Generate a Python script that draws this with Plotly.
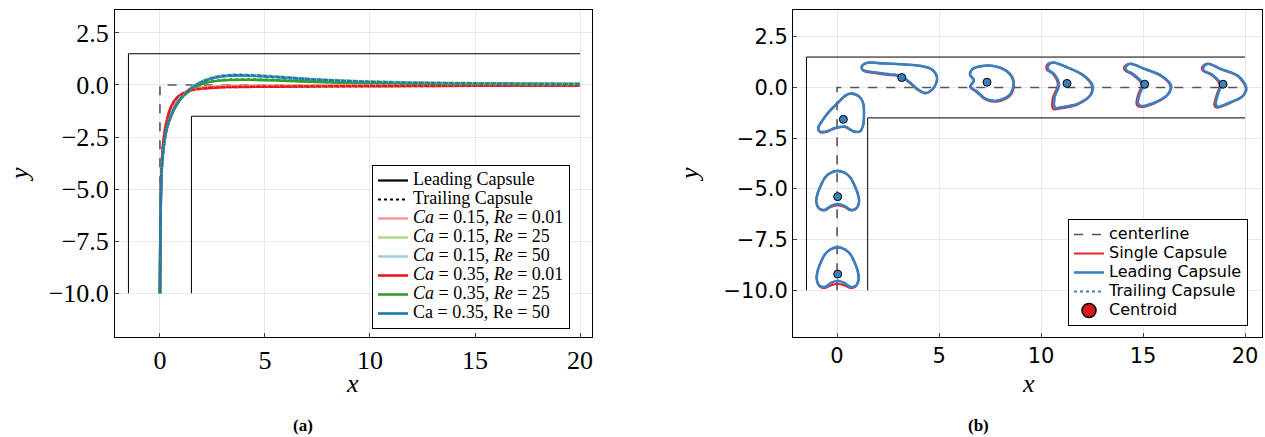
import plotly.graph_objects as go

# ---------------- data: panel (a) centroid trajectories ----------------
traj_x = [0, 0.02, 0.05, 0.1, 0.2, 0.35, 0.55, 0.8, 1.1, 1.5, 2.0, 2.6, 3.3, 4.2, 5.5, 7, 9, 12, 15, 18, 20]

lead_ca15_re001 = [-10, -7, -5, -3.6, -2.5, -1.7, -1.1, -0.7, -0.45, -0.25, -0.12, -0.07, -0.05, -0.04, -0.03, -0.03, -0.02, -0.02, -0.01, -0.01, -0.01]
lead_ca15_re25 = [-10, -7, -5, -3.8, -2.8, -2.0, -1.4, -0.9, -0.48, -0.12, 0.18, 0.38, 0.47, 0.47, 0.4, 0.3, 0.2, 0.12, 0.08, 0.07, 0.06]
lead_ca15_re50 = [-10, -7, -5, -3.8, -2.8, -2.0, -1.4, -0.9, -0.5, -0.14, 0.16, 0.36, 0.46, 0.46, 0.39, 0.29, 0.19, 0.11, 0.08, 0.07, 0.06]
lead_ca35_re001 = [-10, -7, -5, -3.5, -2.4, -1.6, -1.0, -0.62, -0.4, -0.25, -0.17, -0.13, -0.1, -0.09, -0.08, -0.07, -0.06, -0.05, -0.04, -0.03, -0.03]
lead_ca35_re25 = [-10, -7, -5, -3.8, -2.8, -2.0, -1.45, -0.95, -0.55, -0.22, 0.05, 0.18, 0.24, 0.25, 0.22, 0.16, 0.1, 0.06, 0.04, 0.03, 0.03]
lead_ca35_re50 = [-10, -7, -5, -3.8, -2.8, -2.0, -1.4, -0.9, -0.5, -0.15, 0.15, 0.35, 0.45, 0.45, 0.38, 0.28, 0.18, 0.1, 0.07, 0.06, 0.05]

trail_ca15_re001 = [-10, -7, -5, -3.6, -2.5, -1.7, -1.1, -0.7, -0.45, -0.24, -0.11, -0.06, -0.04, -0.03, -0.03, -0.02, -0.02, -0.01, -0.01, -0.01, -0.01]
trail_ca15_re25 = [-10, -7, -5, -3.8, -2.8, -2.0, -1.4, -0.9, -0.47, -0.1, 0.2, 0.4, 0.49, 0.49, 0.42, 0.31, 0.21, 0.13, 0.09, 0.07, 0.06]
trail_ca15_re50 = [-10, -7, -5, -3.8, -2.8, -2.0, -1.4, -0.9, -0.49, -0.12, 0.18, 0.38, 0.48, 0.48, 0.41, 0.3, 0.2, 0.12, 0.08, 0.07, 0.06]
trail_ca35_re001 = [-10, -7, -5, -3.5, -2.4, -1.6, -1.0, -0.62, -0.4, -0.25, -0.17, -0.12, -0.1, -0.09, -0.08, -0.07, -0.06, -0.05, -0.04, -0.03, -0.03]
trail_ca35_re25 = [-10, -7, -5, -3.8, -2.8, -2.0, -1.45, -0.95, -0.54, -0.2, 0.07, 0.2, 0.26, 0.27, 0.24, 0.17, 0.11, 0.07, 0.05, 0.04, 0.03]
trail_ca35_re50 = [-10, -7, -5, -3.8, -2.8, -2.0, -1.4, -0.9, -0.5, -0.14, 0.16, 0.36, 0.47, 0.47, 0.4, 0.29, 0.19, 0.11, 0.08, 0.06, 0.05]

case_labels = [
    "<i>Ca</i> = 0.15, <i>Re</i> = 0.01",
    "<i>Ca</i> = 0.15, <i>Re</i> = 25",
    "<i>Ca</i> = 0.15, <i>Re</i> = 50",
    "<i>Ca</i> = 0.35, <i>Re</i> = 0.01",
    "<i>Ca</i> = 0.35, <i>Re</i> = 25",
    "Ca = 0.35, Re = 50",
]
case_colors = ["#fb9a99", "#b2df8a", "#a6cee3", "#e31a1c", "#33a02c", "#1f78b4"]
lead_series = [lead_ca15_re001, lead_ca15_re25, lead_ca15_re50, lead_ca35_re001, lead_ca35_re25, lead_ca35_re50]
trail_series = [trail_ca15_re001, trail_ca15_re25, trail_ca15_re50, trail_ca35_re001, trail_ca35_re25, trail_ca35_re50]

# channel geometry (both panels)
outer_wall_x = [-1.5, -1.5, 20]
outer_wall_y = [-10, 1.5, 1.5]
inner_wall_x = [1.5, 1.5, 20]
inner_wall_y = [-10, -1.5, -1.5]
center_x = [0, 0, 20]
center_y = [-10, 0, 0]

# ---------------- data: panel (b) capsule snapshots ----------------
centroid_x = [0.03, 0.03, 0.31, 3.17, 7.35, 11.27, 15.08, 18.92]
centroid_y = [-9.2, -5.38, -1.57, 0.49, 0.26, 0.2, 0.16, 0.16]

lead_dx = [
    [0, -0.35, -0.62, -0.82, -0.97, -1.03, -0.95, -0.8, -0.6, -0.35, 0, 0.35, 0.6, 0.8, 0.95, 1.03, 0.97, 0.82, 0.62, 0.35, 0],
    [0, -0.35, -0.62, -0.82, -0.98, -1.05, -0.96, -0.8, -0.6, -0.35, 0, 0.35, 0.6, 0.8, 0.96, 1.05, 0.98, 0.82, 0.62, 0.35, 0],
    [0.08, 0.41, 0.82, 0.98, 1.01, 0.98, 0.82, 0.49, 0.08, -0.41, -0.81, -1.14, -1.23, -0.98, -0.65, -0.25, 0.08],
    [-1.96, -1.72, -0.82, 0.16, 1.0, 1.49, 1.73, 1.58, 1.19, 0.8, 0.41, -0.03, -0.67, -1.46, -1.9, -1.96],
    [-0.74, -0.34, 0.39, 0.93, 1.23, 1.3, 1.08, 0.44, -0.1, -0.49, -0.81, -0.64, -0.83, -0.74],
    [-0.93, -0.69, 0.05, 0.83, 1.25, 1.18, 0.54, -0.29, -0.59, -0.61, -0.39, -0.64, -0.93, -0.93],
    [-0.95, -0.72, 0.01, 0.8, 1.29, 1.14, 0.5, -0.18, -0.33, -0.25, -0.08, -0.57, -0.89, -0.95],
    [-0.98, -0.74, -0.08, 0.74, 1.14, 0.98, 0.33, -0.25, -0.36, -0.25, -0.11, -0.57, -0.93, -0.98],
]
lead_dy = [
    [1.32, 1.22, 0.98, 0.6, 0.2, -0.2, -0.5, -0.62, -0.62, -0.45, -0.33, -0.45, -0.62, -0.62, -0.5, -0.2, 0.2, 0.6, 0.98, 1.22, 1.32],
    [1.27, 1.17, 0.94, 0.56, 0.16, -0.22, -0.52, -0.64, -0.64, -0.47, -0.36, -0.47, -0.64, -0.64, -0.52, -0.22, 0.16, 0.56, 0.94, 1.17, 1.27],
    [1.16, 1.27, 1.08, 0.75, 0.26, -0.23, -0.59, -0.59, -0.36, -0.43, -0.59, -0.6, -0.44, 0.01, 0.43, 0.83, 1.16],
    [0.54, 0.72, 0.69, 0.64, 0.56, 0.39, 0.0, -0.49, -0.76, -0.59, -0.25, 0.07, 0.17, 0.27, 0.37, 0.54],
    [0.62, 0.78, 0.79, 0.57, 0.23, -0.16, -0.65, -0.92, -0.8, -0.46, -0.21, 0.08, 0.38, 0.62],
    [0.88, 1.03, 0.78, 0.39, -0.1, -0.54, -1.0, -1.18, -1.2, -0.69, -0.05, 0.47, 0.69, 0.88],
    [0.82, 1.01, 0.75, 0.43, -0.06, -0.5, -0.9, -1.07, -0.95, -0.48, -0.01, 0.5, 0.67, 0.82],
    [0.82, 1.01, 0.74, 0.41, -0.16, -0.57, -0.9, -1.11, -0.98, -0.49, 0.0, 0.49, 0.66, 0.82],
]
single_dx = [
    [0, -0.35, -0.62, -0.82, -0.97, -1.03, -0.95, -0.8, -0.6, -0.35, 0, 0.35, 0.6, 0.8, 0.95, 1.03, 0.97, 0.82, 0.62, 0.35, 0],
    [0, -0.35, -0.62, -0.82, -0.98, -1.05, -0.96, -0.8, -0.6, -0.35, 0, 0.35, 0.6, 0.8, 0.96, 1.05, 0.98, 0.82, 0.62, 0.35, 0],
    [0.08, 0.41, 0.82, 0.98, 1.01, 0.98, 0.82, 0.49, 0.08, -0.41, -0.81, -1.14, -1.25, -1.0, -0.67, -0.27, 0.08],
    [-1.96, -1.72, -0.82, 0.16, 1.0, 1.49, 1.73, 1.58, 1.19, 0.8, 0.41, -0.03, -0.67, -1.46, -1.9, -1.96],
    [-0.74, -0.34, 0.39, 0.95, 1.26, 1.33, 1.12, 0.46, -0.1, -0.51, -0.84, -0.66, -0.84, -0.74],
    [-1.0, -0.75, 0.03, 0.82, 1.22, 1.14, 0.5, -0.33, -0.68, -0.7, -0.45, -0.7, -1.0, -1.0],
    [-1.02, -0.78, 0.0, 0.78, 1.26, 1.1, 0.46, -0.22, -0.4, -0.32, -0.14, -0.64, -0.96, -1.02],
    [-1.04, -0.8, -0.1, 0.72, 1.11, 0.95, 0.3, -0.3, -0.43, -0.31, -0.17, -0.63, -0.99, -1.04],
]
single_dy = [
    [1.32, 1.22, 0.98, 0.6, 0.2, -0.2, -0.52, -0.66, -0.68, -0.56, -0.48, -0.56, -0.68, -0.66, -0.52, -0.2, 0.2, 0.6, 0.98, 1.22, 1.32],
    [1.27, 1.17, 0.94, 0.56, 0.16, -0.22, -0.53, -0.66, -0.67, -0.52, -0.42, -0.52, -0.67, -0.66, -0.53, -0.22, 0.16, 0.56, 0.94, 1.17, 1.27],
    [1.16, 1.27, 1.08, 0.75, 0.26, -0.23, -0.6, -0.6, -0.38, -0.45, -0.62, -0.64, -0.46, 0.0, 0.43, 0.83, 1.16],
    [0.54, 0.72, 0.69, 0.64, 0.56, 0.39, 0.0, -0.49, -0.78, -0.62, -0.29, 0.03, 0.13, 0.23, 0.34, 0.54],
    [0.62, 0.78, 0.79, 0.57, 0.23, -0.18, -0.68, -0.96, -0.84, -0.49, -0.23, 0.08, 0.38, 0.62],
    [0.88, 1.03, 0.78, 0.37, -0.12, -0.58, -1.05, -1.24, -1.26, -0.72, -0.05, 0.47, 0.69, 0.88],
    [0.82, 1.01, 0.75, 0.41, -0.08, -0.54, -0.95, -1.12, -1.0, -0.5, -0.01, 0.5, 0.67, 0.82],
    [0.82, 1.01, 0.74, 0.39, -0.18, -0.6, -0.95, -1.16, -1.03, -0.51, 0.0, 0.49, 0.66, 0.82],
]

# ---------------- figure ----------------
SERIF = "Liberation Serif"
SANS = "DejaVu Sans"
RED_B = "#e3242b"
BLUE_B = "#3a80c0"


def leg_a(t):
    return '<span style="font-size:18px">' + t + "</span>"


def leg_b(t):
    return '<span style="font-size:16px">' + t + "</span>"


fig = go.Figure()

# panel (a)
fig.add_trace(go.Scatter(x=outer_wall_x, y=outer_wall_y, mode="lines", line=dict(color="black", width=1),
                         showlegend=False, xaxis="x", yaxis="y", hoverinfo="skip"))
fig.add_trace(go.Scatter(x=inner_wall_x, y=inner_wall_y, mode="lines", line=dict(color="black", width=1),
                         showlegend=False, xaxis="x", yaxis="y", hoverinfo="skip"))
fig.add_trace(go.Scatter(x=center_x, y=center_y, mode="lines", line=dict(color="#555555", width=1.6, dash="dash"),
                         showlegend=False, xaxis="x", yaxis="y", hoverinfo="skip"))
for ys, c in zip(lead_series, case_colors):
    fig.add_trace(go.Scatter(x=traj_x, y=ys, mode="lines", line=dict(color=c, width=2.6, shape="spline"),
                             showlegend=False, xaxis="x", yaxis="y"))
for ys, c in zip(trail_series, case_colors):
    fig.add_trace(go.Scatter(x=traj_x, y=ys, mode="lines", line=dict(color=c, width=2.4, dash="dot", shape="spline"),
                             showlegend=False, xaxis="x", yaxis="y"))
# legend entries (a)
fig.add_trace(go.Scatter(x=[None], y=[None], mode="lines", line=dict(color="black", width=2.2),
                         name=leg_a("Leading Capsule"), legend="legend", xaxis="x", yaxis="y"))
fig.add_trace(go.Scatter(x=[None], y=[None], mode="lines", line=dict(color="black", width=2.2, dash="dot"),
                         name=leg_a("Trailing Capsule"), legend="legend", xaxis="x", yaxis="y"))
for lab, c in zip(case_labels, case_colors):
    fig.add_trace(go.Scatter(x=[None], y=[None], mode="lines", line=dict(color=c, width=2.6),
                             name=leg_a(lab), legend="legend", xaxis="x", yaxis="y"))

# panel (b)
fig.add_trace(go.Scatter(x=outer_wall_x, y=outer_wall_y, mode="lines", line=dict(color="black", width=1),
                         showlegend=False, xaxis="x2", yaxis="y2", hoverinfo="skip"))
fig.add_trace(go.Scatter(x=inner_wall_x, y=inner_wall_y, mode="lines", line=dict(color="black", width=1),
                         showlegend=False, xaxis="x2", yaxis="y2", hoverinfo="skip"))
fig.add_trace(go.Scatter(x=center_x, y=center_y, mode="lines", line=dict(color="#555555", width=1.6, dash="dash"),
                         name=leg_b("centerline"), legend="legend2", xaxis="x2", yaxis="y2"))
for i in range(len(centroid_x)):
    cx, cy = centroid_x[i], centroid_y[i]
    fig.add_trace(go.Scatter(x=[cx + d for d in single_dx[i]], y=[cy + d for d in single_dy[i]], mode="lines",
                             line=dict(color=RED_B, width=2, shape="spline", smoothing=0.9),
                             name=leg_b("Single Capsule"), legend="legend2", showlegend=(i == 0),
                             xaxis="x2", yaxis="y2"))
for i in range(len(centroid_x)):
    cx, cy = centroid_x[i], centroid_y[i]
    fig.add_trace(go.Scatter(x=[cx + d for d in lead_dx[i]], y=[cy + d for d in lead_dy[i]], mode="lines",
                             line=dict(color=BLUE_B, width=2.6, shape="spline", smoothing=0.9),
                             name=leg_b("Leading Capsule"), legend="legend2", showlegend=(i == 0),
                             xaxis="x2", yaxis="y2"))
for i in range(len(centroid_x)):
    cx, cy = centroid_x[i], centroid_y[i]
    fig.add_trace(go.Scatter(x=[cx + d for d in lead_dx[i]], y=[cy + d for d in lead_dy[i]], mode="lines",
                             line=dict(color=BLUE_B, width=2.2, dash="dot", shape="spline", smoothing=0.9),
                             name=leg_b("Trailing Capsule"), legend="legend2", showlegend=(i == 0),
                             xaxis="x2", yaxis="y2"))
fig.add_trace(go.Scatter(x=centroid_x, y=centroid_y, mode="markers",
                         marker=dict(color=BLUE_B, size=8, line=dict(color="black", width=1)),
                         showlegend=False, xaxis="x2", yaxis="y2"))
fig.add_trace(go.Scatter(x=[None], y=[None], mode="markers",
                         marker=dict(color="#d7191c", size=14, line=dict(color="black", width=1.5)),
                         name=leg_b("Centroid"), legend="legend2", xaxis="x2", yaxis="y2"))

W, H = 1265, 437
ydom = [1 - 337 / H, 1 - 10 / H]
axis_common = dict(showline=True, mirror=True, linecolor="black", linewidth=1,
                   showgrid=True, gridcolor="#e8e8e8", gridwidth=1, zeroline=False,
                   ticks="inside", ticklen=4, tickcolor="#444444")


def ann(text, px, py, size, angle=0):
    return dict(text=text, x=px / W, y=1 - py / H, xref="paper", yref="paper", showarrow=False,
                xanchor="center", yanchor="middle", textangle=angle,
                font=dict(family=SERIF, size=size, color="black"))


fig.update_layout(
    width=W, height=H,
    margin=dict(l=0, r=0, t=0, b=0),
    plot_bgcolor="white", paper_bgcolor="white",
    xaxis=dict(domain=[115 / W, 592 / W], range=[-2.14, 20.57], tickvals=[0, 5, 10, 15, 20],
               tickfont=dict(family=SERIF, size=26, color="black"), anchor="y", **axis_common),
    yaxis=dict(domain=ydom, range=[-12.1, 3.6], tickvals=[2.5, 0, -2.5, -5, -7.5, -10], tickformat=".1f",
               tickfont=dict(family=SERIF, size=26, color="black"), anchor="x", **axis_common),
    xaxis2=dict(domain=[793 / W, 1262 / W], range=[-2.16, 20.83], tickvals=[0, 5, 10, 15, 20],
                tickfont=dict(family=SANS, size=21, color="black"), anchor="y2", **axis_common),
    yaxis2=dict(domain=ydom, range=[-12.3, 3.82], tickvals=[2.5, 0, -2.5, -5, -7.5, -10], tickformat=".1f",
                tickfont=dict(family=SANS, size=21, color="black"), anchor="x2", **axis_common),
    legend=dict(x=372 / W, y=1 - 165 / H, xanchor="left", yanchor="top",
                bgcolor="white", bordercolor="black", borderwidth=1,
                font=dict(family=SERIF, size=12, color="black"), tracegroupgap=0, itemwidth=30),
    legend2=dict(x=1068 / W, y=1 - 219 / H, xanchor="left", yanchor="top",
                 bgcolor="white", bordercolor="black", borderwidth=1,
                 font=dict(family=SANS, size=12, color="black"), tracegroupgap=0, itemwidth=30),
    showlegend=True,
    annotations=[
        ann("<i>x</i>", 352, 383, 26),
        ann("<i>y</i>", 20, 175, 26, -90),
        ann("<i>x</i>", 1028, 383, 26),
        ann("<i>y</i>", 690, 175, 26, -90),
        ann("<b>(a)</b>", 303, 425, 17),
        ann("<b>(b)</b>", 978, 425, 17),
    ],
)

fig.write_html("out.html", post_script="document.body.style.margin='0';",
               config={"displayModeBar": False})
